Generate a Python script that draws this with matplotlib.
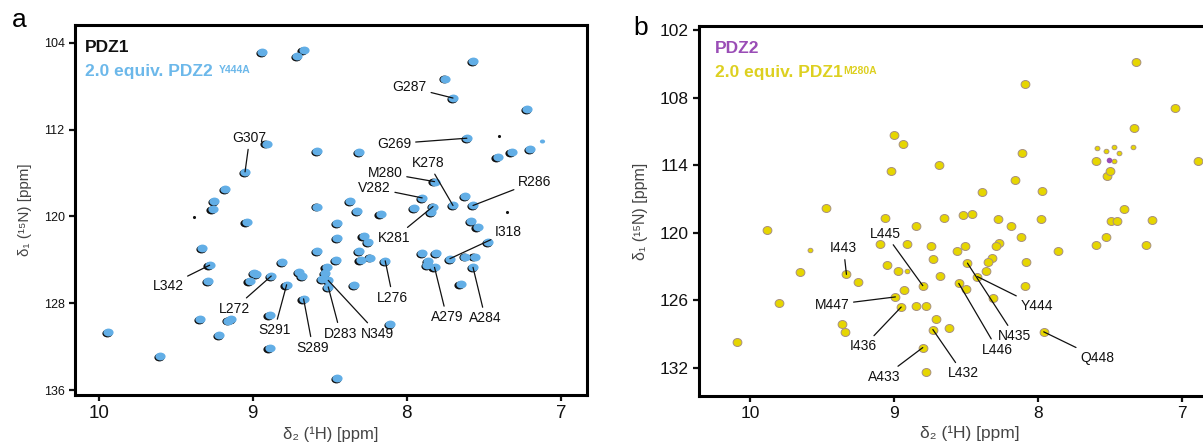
import numpy as np
import matplotlib
matplotlib.use('Agg')
import matplotlib.pyplot as plt
from matplotlib.path import Path

plt.rcParams['font.family'] = ['Liberation Sans', 'DejaVu Sans']

# ---------------------------------------------------------------- panel a data
# PDZ1 + 2.0 equiv. PDZ2 Y444A  (1H ppm, 15N ppm)
a_h = [8.94, 8.71, 8.67, 7.57, 7.75, 7.70, 7.22, 8.91, 8.58, 8.31,
       7.61, 7.41, 7.32, 7.20, 9.05, 7.82, 7.90, 7.70, 7.62, 7.57,
       7.83, 7.84, 7.95, 8.17, 8.32, 8.37, 8.58, 9.18, 9.25, 9.26,
       9.04, 8.45, 8.45, 8.28, 8.25, 8.31, 8.58, 8.46, 8.30, 8.24,
       8.14, 7.90, 7.81, 7.72, 7.62, 7.56, 7.58, 7.54, 7.47, 7.86,
       7.87, 7.82, 7.57, 7.65, 9.33, 9.28, 9.29, 8.99, 9.02, 8.81,
       8.88, 8.78, 8.70, 8.68, 8.67, 8.52, 8.53, 8.55, 8.51, 8.51,
       8.34, 8.89, 9.34, 9.14, 9.22, 9.94, 9.60, 8.89, 8.11, 8.45,
       9.16, 8.98]
a_n = [104.9, 105.2, 104.7, 105.7, 107.3, 109.1, 110.1, 113.3, 114.0, 114.1,
       112.8, 114.5, 114.1, 113.8, 115.9, 116.8, 118.3, 119.0, 118.1, 119.0,
       119.1, 119.6, 119.2, 119.8, 119.5, 118.6, 119.1, 117.5, 118.6, 119.3,
       120.5, 120.6, 122.0, 121.8, 122.4, 123.2, 123.2, 124.0, 124.0, 123.8,
       124.1, 123.4, 123.4, 123.9, 123.7, 123.7, 120.4, 121.0, 122.4, 124.1,
       124.5, 124.7, 124.7, 126.2, 122.9, 124.5, 126.0, 125.2, 126.0, 124.2,
       125.5, 126.3, 125.1, 125.5, 127.6, 124.7, 125.2, 125.8, 125.9, 126.5,
       126.3, 129.1, 129.5, 129.5, 130.9, 130.7, 132.9, 132.1, 129.9, 134.9,
       129.6, 125.3]
a_dot_h = [7.40, 9.38, 7.35]          # tiny PDZ1-only dots
a_dot_n = [112.6, 120.1, 119.6]
a_small_h = [7.12]                     # weak PDZ2 bound peak
a_small_n = [113.1]

a_lab = ['G287', 'G307', 'G269', 'K278', 'M280', 'R286', 'V282', 'K281', 'I318',
         'L342', 'L276', 'A279', 'A284', 'L272', 'S291', 'S289', 'D283', 'N349']
a_lab_h = [7.98, 9.02, 8.08, 7.86, 8.14, 7.17, 8.21, 8.08, 7.34,
           9.55, 8.09, 7.74, 7.49, 9.12, 8.86, 8.61, 8.43, 8.19]
a_lab_n = [108.1, 112.8, 113.3, 115.1, 116.0, 116.8, 117.4, 122.0, 121.4,
           126.4, 127.5, 129.3, 129.4, 128.5, 130.5, 132.1, 130.8, 130.8]
a_pk_h = [7.70, 9.05, 7.61, 7.70, 7.82, 7.57, 7.90, 7.83, 7.72,
          9.28, 8.14, 7.82, 7.57, 8.88, 8.78, 8.67, 8.51, 8.51]
a_pk_n = [109.1, 115.9, 112.8, 119.0, 116.8, 119.0, 118.3, 119.1, 123.9,
          124.5, 124.1, 124.7, 124.7, 125.5, 126.3, 127.6, 126.5, 125.9]

# ---------------------------------------------------------------- panel b data
# PDZ2 + 2.0 equiv. PDZ1 M280A
b_h = [7.32, 8.09, 7.05, 7.33, 9.00, 8.94, 8.11, 8.69, 9.02, 8.16,
       8.39, 7.97, 6.89, 7.60, 7.52, 7.50, 7.40, 7.49, 7.45, 7.21,
       7.53, 7.60, 7.25, 7.86, 7.98, 8.08, 8.09, 8.12, 8.19, 8.28,
       8.27, 8.29, 8.32, 8.35, 8.36, 8.31, 8.42, 8.49, 8.55, 8.50,
       8.51, 8.56, 8.52, 8.46, 8.65, 8.74, 8.73, 8.68, 8.80, 8.85,
       8.91, 9.06, 9.10, 9.05, 8.97, 8.93, 8.99, 8.95, 8.85, 8.78,
       8.71, 8.73, 8.62, 8.80, 8.78, 7.96, 9.33, 9.25, 9.47, 9.65,
       9.88, 9.80, 9.36, 9.34, 10.09]
b_n = [104.8, 106.8, 108.9, 110.7, 111.3, 112.1, 112.9, 114.0, 114.5, 115.3,
       116.4, 116.3, 113.6, 113.6, 115.0, 114.5, 117.9, 119.0, 119.0, 118.9,
       120.4, 121.1, 121.1, 121.6, 118.8, 122.6, 124.7, 120.4, 119.4, 118.8,
       120.9, 121.2, 122.2, 122.6, 123.4, 125.8, 123.9, 122.7, 124.5, 125.0,
       121.2, 121.6, 118.4, 118.3, 118.7, 121.2, 122.3, 123.8, 124.7, 119.4,
       121.0, 118.7, 121.0, 122.9, 123.4, 125.1, 125.7, 126.6, 126.5, 126.5,
       127.7, 128.6, 128.5, 130.2, 132.4, 128.8, 123.7, 124.4, 117.8, 123.5,
       119.8, 126.2, 128.1, 128.8, 129.7]
b_small_h = [9.58, 7.59, 7.53, 7.47, 7.44, 7.47, 7.34, 8.91]
b_small_n = [121.5, 112.5, 112.7, 112.4, 112.9, 113.6, 112.4, 123.4]
b_free_h = [7.51]                      # PDZ2-only peak
b_free_n = [113.5]

b_lab = ['L445', 'I443', 'M447', 'I436', 'A433', 'L432', 'L446', 'N435', 'Y444', 'Q448']
b_lab_h = [9.06, 9.35, 9.43, 9.21, 9.07, 8.52, 8.28, 8.16, 8.01, 7.59]
b_lab_n = [120.1, 121.4, 126.4, 130.1, 132.8, 132.5, 130.4, 129.2, 126.5, 131.1]
b_pk_h = [8.80, 9.33, 8.99, 8.95, 8.80, 8.73, 8.55, 8.49, 8.42, 7.96]
b_pk_n = [124.7, 123.7, 125.7, 126.6, 130.2, 128.6, 124.5, 122.7, 123.9, 128.8]

blue = '#62aee6'
yellow = '#e6d600'
purple = '#9a4db6'

# flat ellipse marker for the peaks
circ = Path.unit_circle()
ell = Path(circ.vertices * np.array([1.3, 1.0]), circ.codes)
ell2 = Path(circ.vertices * np.array([1.1, 1.0]), circ.codes)

fig = plt.figure(figsize=(12.03, 4.45), dpi=100)
axa = fig.add_axes([75/1203, 50/445, 512/1203, 370/445])
axb = fig.add_axes([699/1203, 49/445, 541/1203, 370/445])


def style(ax, xfs, yfs, lfs):
    for s in ax.spines.values():
        s.set_linewidth(2.2)
    ax.tick_params(direction='out', length=4, width=1.6, colors='#111')
    ax.tick_params(axis='x', labelsize=xfs)
    ax.tick_params(axis='y', labelsize=yfs)
    ax.set_xlabel('δ\u2082 (¹H) [ppm]', fontsize=lfs, color='#444', labelpad=3)
    ax.set_ylabel('δ\u2081 (¹\u2075N) [ppm]', fontsize=lfs - 1, color='#444', labelpad=8)


def labels(ax, lab, lh, ln, ph, pn):
    for t, x, y, px, py in zip(lab, lh, ln, ph, pn):
        ax.annotate(t, xy=(px, py), xytext=(x, y), ha='center', va='center',
                    fontsize=10, color='#111',
                    arrowprops=dict(arrowstyle='-', lw=0.9, color='#111',
                                    shrinkA=1, shrinkB=0))


# ---------------------------------------------------------------- panel a
axa.scatter(np.array(a_h) + 0.008, np.array(a_n) + 0.08, s=54, marker=ell,
            color='#111', lw=0, zorder=2)
axa.scatter(a_h, a_n, s=54, marker=ell, color=blue, lw=0, zorder=3)
axa.scatter(a_dot_h, a_dot_n, s=5, color='#111', lw=0, zorder=3)
axa.scatter(a_small_h, a_small_n, s=14, marker=ell, color=blue, lw=0, zorder=3)
labels(axa, a_lab, a_lab_h, a_lab_n, a_pk_h, a_pk_n)
axa.set_xlim(10.154, 6.83)
axa.set_ylim(136.46, 102.37)
axa.set_xticks([10, 9, 8, 7])
axa.set_yticks([104, 112, 120, 128, 136])
style(axa, 13.5, 9, 12)

axa.text(0.02, 0.94, 'PDZ1', transform=axa.transAxes, fontsize=12.5,
         fontweight='bold', color='#111', va='center')
ta = axa.text(0.02, 0.875, '2.0 equiv. PDZ2', transform=axa.transAxes,
              fontsize=12.5, fontweight='bold', color='#6cb8ea', va='center')
axa.annotate('Y444A', xy=(1, 1), xycoords=ta, xytext=(4, -1),
             textcoords='offset points', fontsize=7.5, fontweight='bold',
             color='#6cb8ea', va='top')

# ---------------------------------------------------------------- panel b
axb.scatter(b_h, b_n, s=40, marker=ell2, color=yellow, edgecolor='#a89080',
            lw=0.7, zorder=3)
axb.scatter(b_small_h, b_small_n, s=13, marker=ell2, color=yellow,
            edgecolor='#a89080', lw=0.6, zorder=3)
axb.scatter(b_free_h, b_free_n, s=16, color=purple, lw=0, zorder=4)
labels(axb, b_lab, b_lab_h, b_lab_n, b_pk_h, b_pk_n)
axb.set_xlim(10.354, 6.597)
axb.set_ylim(134.5, 101.64)
axb.set_xticks([10, 9, 8, 7])
axb.set_yticks([102, 108, 114, 120, 126, 132])
style(axb, 12.5, 12.5, 12.5)

axb.text(0.03, 0.94, 'PDZ2', transform=axb.transAxes, fontsize=12.5,
         fontweight='bold', color=purple, va='center')
tb = axb.text(0.03, 0.875, '2.0 equiv. PDZ1', transform=axb.transAxes,
              fontsize=12.5, fontweight='bold', color='#ddd020', va='center')
axb.annotate('M280A', xy=(1, 1), xycoords=tb, xytext=(0.5, -1),
             textcoords='offset points', fontsize=7.5, fontweight='bold',
             color='#ddd020', va='top')

fig.text(12/1203, 1 - 20/445, 'a', fontsize=19, va='center')
fig.text(633/1203, 1 - 28/445, 'b', fontsize=19, va='center')

fig.savefig('out.png', dpi=100)
